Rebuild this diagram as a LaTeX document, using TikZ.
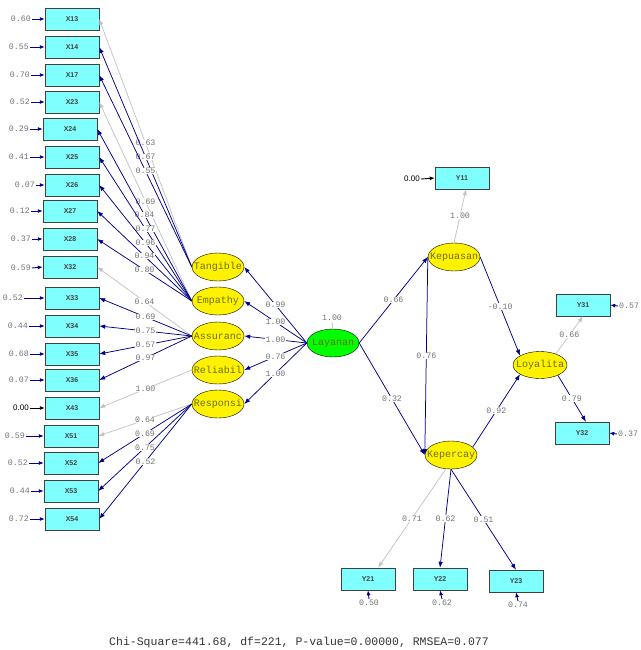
\documentclass[tikz,border=0pt]{standalone}
\usepackage{fontspec}
\setmainfont{Liberation Sans}
\setsansfont{Liberation Sans}
\setmonofont{Liberation Mono}
\usepackage{xcolor}
\usepackage{tikz}
\usetikzlibrary{arrows.meta,shapes.geometric}
\definecolor{boxcyan}{RGB}{128,255,255}
\definecolor{lisnavy}{RGB}{0,0,139}
\definecolor{lisgray}{RGB}{195,195,195}
\definecolor{coefgray}{RGB}{115,115,115}
\definecolor{olivetext}{RGB}{110,110,0}
\newcommand{\lv}[1]{\makebox[0pt]{#1}}

\begin{document}
\begin{tikzpicture}[
    x=1pt, y=-1pt,
    >={Latex[length=6pt,width=4.5pt]},
    ind/.style={draw=black!75, fill=boxcyan, minimum width=54pt, minimum height=22pt, inner sep=0pt, font=\sffamily\bfseries\fontsize{7}{8}\selectfont, text=black!75},
    lat/.style={ellipse, draw, fill=yellow, minimum width=52pt, minimum height=28pt, inner sep=0pt, font=\ttfamily\fontsize{10}{10}\selectfont, text=olivetext},
    err/.style={font=\ttfamily\fontsize{8.3}{9}\selectfont, text=coefgray, inner sep=1pt},
    errblk/.style={font=\sffamily\fontsize{8}{9}\selectfont, text=black, inner sep=1pt},
    coef/.style={font=\ttfamily\fontsize{8.3}{9}\selectfont, text=coefgray, fill=white, inner sep=0.5pt},
    load/.style={->, draw=lisnavy, line width=0.75pt},
    fixed/.style={->, draw=lisgray, line width=0.75pt},
    errarr/.style={-{Latex[length=5pt,width=4pt]}, draw=lisnavy, line width=0.9pt},
    errarrblk/.style={-{Latex[length=5pt,width=4pt]}, draw=black, line width=0.9pt}
]
\useasboundingbox (0,0) rectangle (640,650);

% indicators
\node[ind] (x13) at (72,19) {X13};
\node[ind] (x14) at (72,47) {X14};
\node[ind] (x17) at (72,75) {X17};
\node[ind] (x23) at (72,102) {X23};
\node[ind] (x24) at (70,129) {X24};
\node[ind] (x25) at (72,157) {X25};
\node[ind] (x26) at (72,185) {X26};
\node[ind] (x27) at (70,211) {X27};
\node[ind] (x28) at (70,239) {X28};
\node[ind] (x32) at (70,267) {X32};
\node[ind] (x33) at (72,298) {X33};
\node[ind] (x34) at (72,326) {X34};
\node[ind] (x35) at (72,354) {X35};
\node[ind] (x36) at (72,380) {X36};
\node[ind] (x43) at (72,408) {X43};
\node[ind] (x51) at (71,436) {X51};
\node[ind] (x52) at (71,463) {X52};
\node[ind] (x53) at (71,491) {X53};
\node[ind] (x54) at (72,519) {X54};

\node[ind] (y11) at (462,178) {Y11};
\node[ind] (y31) at (583,305) {Y31};
\node[ind] (y32) at (582,433) {Y32};
\node[ind] (y21) at (368,579) {Y21};
\node[ind] (y22) at (440,579) {Y22};
\node[ind] (y23) at (516,581) {Y23};

% latent variables
\node[lat] (tangible) at (218,267) {\lv{Tangible}};
\node[lat] (empathy) at (218,301) {\lv{Empathy}};
\node[lat] (assurance) at (218,336) {\lv{Assuranc}};
\node[lat] (reliabil) at (218,370) {\lv{Reliabil}};
\node[lat] (responsi) at (218,404) {\lv{Responsi}};
\node[lat, fill=green] (layanan) at (333,343) {\lv{Layanan}};
\node[lat] (kepuasan) at (454,257) {\lv{Kepuasan}};
\node[lat] (kepercay) at (451,455) {\lv{Kepercay}};
\node[lat, minimum width=54pt, minimum height=27pt] (loyalita) at (540,365) {\lv{Loyalita}};

% error variances
\node[err, anchor=east] (e13) at (32,19) {0.60};
\node[err, anchor=east] (e14) at (30,47) {0.55};
\node[err, anchor=east] (e17) at (31,75) {0.70};
\node[err, anchor=east] (e23) at (31,102) {0.52};
\node[err, anchor=east] (e24) at (30,129) {0.29};
\node[err, anchor=east] (e25) at (30,157) {0.41};
\node[err, anchor=east] (e26) at (36,185) {0.07};
\node[err, anchor=east] (e27) at (31,211) {0.12};
\node[err, anchor=east] (e28) at (32,239) {0.37};
\node[err, anchor=east] (e32) at (32,268) {0.59};
\node[err, anchor=east] (e33) at (24,298) {0.52};
\node[err, anchor=east] (e34) at (29,326) {0.44};
\node[err, anchor=east] (e35) at (30,354) {0.68};
\node[err, anchor=east] (e36) at (30,380) {0.07};
\node[errblk, anchor=east] (e43) at (30,408) {0.00};
\node[err, anchor=east] (e51) at (26,436) {0.59};
\node[err, anchor=east] (e52) at (29,463) {0.52};
\node[err, anchor=east] (e53) at (31,491) {0.44};
\node[err, anchor=east] (e54) at (30,519) {0.72};
\node[errblk, anchor=east] (e11) at (421,179) {0.00};
\node[err, anchor=west] (e31) at (618,306) {0.57};
\node[err, anchor=west] (e32y) at (617,434) {0.37};
\node[err, anchor=north] (e21) at (369,599) {0.50};
\node[err, anchor=north] (e22) at (442,599) {0.62};
\node[err, anchor=north] (e23y) at (518,601) {0.74};
\node[err] (vlay) at (332,318) {1.00};

\draw[errarr] (e13.east) -- (x13.west);
\draw[errarr] (e14.east) -- (x14.west);
\draw[errarr] (e17.east) -- (x17.west);
\draw[errarr] (e23.east) -- (x23.west);
\draw[errarr] (e24.east) -- (x24.west);
\draw[errarr] (e25.east) -- (x25.west);
\draw[errarr] (e26.east) -- (x26.west);
\draw[errarr] (e27.east) -- (x27.west);
\draw[errarr] (e28.east) -- (x28.west);
\draw[errarr] (e32.east) -- (x32.west);
\draw[errarr] (e33.east) -- (x33.west);
\draw[errarr] (e34.east) -- (x34.west);
\draw[errarr] (e35.east) -- (x35.west);
\draw[errarr] (e36.east) -- (x36.west);
\draw[errarrblk] (e43.east) -- (x43.west);
\draw[errarr] (e51.east) -- (x51.west);
\draw[errarr] (e52.east) -- (x52.west);
\draw[errarr] (e53.east) -- (x53.west);
\draw[errarr] (e54.east) -- (x54.west);
\draw[errarrblk] (e11.east) -- (y11.west);
\draw[errarr] (e31.west) -- (y31.east);
\draw[errarr] (e32y.west) -- (y32.east);
\draw[errarr] (e21.north) -- (y21.south);
\draw[errarr] (e22.north) -- (y22.south);
\draw[errarr] (e23y.north) -- (y23.south);
\draw[draw=lisgray, line width=0.75pt] (vlay.south) -- (layanan.north);

% measurement model
\draw[fixed] (tangible.west) -- node[coef] {0.63} (x13.east);
\draw[load] (tangible.west) -- node[coef] {0.67} (x14.east);
\draw[load] (tangible.west) -- node[coef] {0.55} (x17.east);
\draw[fixed] (empathy.west) -- node[coef] {0.69} (x23.east);
\draw[load] (empathy.west) -- node[coef] {0.84} (x24.east);
\draw[load] (empathy.west) -- node[coef] {0.77} (x25.east);
\draw[load] (empathy.west) -- node[coef] {0.96} (x26.east);
\draw[load] (empathy.west) -- node[coef] {0.94} (x27.east);
\draw[load] (empathy.west) -- node[coef] {0.80} (x28.east);
\draw[fixed] (assurance.west) -- node[coef] {0.64} (x32.east);
\draw[load] (assurance.west) -- node[coef] {0.69} (x33.east);
\draw[load] (assurance.west) -- node[coef] {0.75} (x34.east);
\draw[load] (assurance.west) -- node[coef] {0.57} (x35.east);
\draw[load] (assurance.west) -- node[coef] {0.97} (x36.east);
\draw[fixed] (reliabil.west) -- node[coef] {1.00} (x43.east);
\draw[fixed] (responsi.west) -- node[coef] {0.64} (x51.east);
\draw[load] (responsi.west) -- node[coef] {0.69} (x52.east);
\draw[load] (responsi.west) -- node[coef] {0.75} (x53.east);
\draw[load] (responsi.west) -- node[coef] {0.52} (x54.east);

\draw[fixed] (kepuasan.north) -- node[coef] {1.00} ([xshift=4pt]y11.south);
\draw[fixed] (loyalita.35) -- node[coef] {0.66} (y31.south);
\draw[load] (loyalita.-30) -- node[coef] {0.79} ([xshift=4pt]y32.north);
\draw[fixed] (kepercay.250) -- node[coef] {0.71} ([xshift=10pt]y21.north);
\draw[load] (kepercay.south) -- node[coef] {0.62} (y22.north);
\draw[load] (kepercay.south) -- node[coef] {0.51} (y23.north);

% structural model
\draw[load] (layanan.west) -- node[coef] {0.99} (tangible.east);
\draw[load] (layanan.west) -- node[coef] {1.00} (empathy.east);
\draw[load] (layanan.west) -- node[coef] {1.00} (assurance.east);
\draw[load] (layanan.west) -- node[coef] {0.76} (reliabil.east);
\draw[load] (layanan.west) -- node[coef] {1.00} (responsi.east);
\draw[load] (layanan.east) -- node[coef] {0.66} (kepuasan.west);
\draw[load] (layanan.east) -- node[coef] {0.32} (kepercay.west);
\draw[load] (kepuasan.west) -- node[coef] {0.76} (kepercay.west);
\draw[load] (kepuasan.east) -- node[coef] {-0.10} (loyalita.155);
\draw[load] (kepercay.20) -- node[coef] {0.92} (loyalita.205);

\node[font=\ttfamily\fontsize{11.5}{12}\selectfont, text=black!80] (fitinfo) at (299,643) {Chi-Square=441.68, df=221, P-value=0.00000, RMSEA=0.077};
\end{tikzpicture}
\end{document}
